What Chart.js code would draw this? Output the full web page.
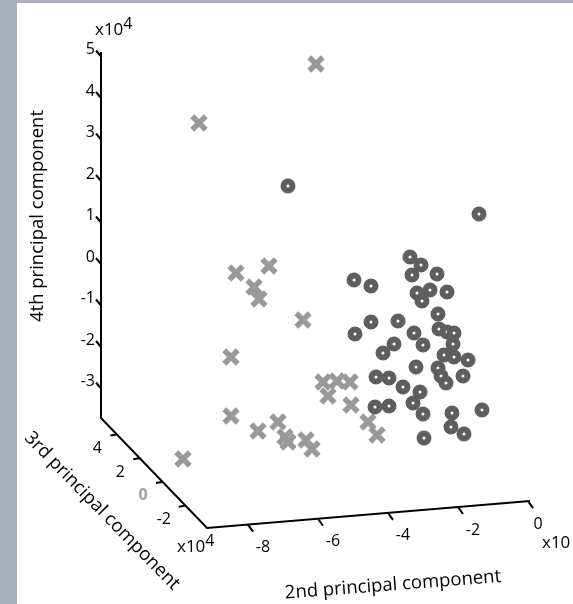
<!DOCTYPE html>
<html>
<head>
<meta charset="utf-8">
<script src="https://cdn.jsdelivr.net/npm/chart.js@4/dist/chart.umd.min.js"></script>
<style>
  html, body { margin: 0; padding: 0; background: #aab0bb; }
  #chart { display: block; }
</style>
</head>
<body>
<canvas id="chart" width="573" height="604"></canvas>
<script>
// tick values of the three principal component axes
const pc4Ticks = [5, 4, 3, 2, 1, 0, -1, -2, -3];
const pc3Ticks = [4, 2, 0, -2];
const pc2Ticks = [-8, -6, -4, -2, 0];

// projected positions (view plane) of the two groups
const crossX = [316, 199, 236, 269, 254, 259, 303, 231, 231, 183, 258, 278, 285, 288,
  306, 312, 323, 337, 350, 328, 351, 368, 377];
const crossY = [64, 123, 273, 266, 287, 299, 320, 357, 416, 459, 431, 422, 437, 442,
  440, 449, 382, 381, 382, 396, 405, 422, 435];

const ringX = [288, 479, 410, 421, 412, 437, 354, 371, 417, 430, 447, 422, 438, 371, 398,
  355, 439, 447, 454, 414, 423, 394, 383, 453, 444, 454, 468, 438, 416, 441, 446, 463,
  376, 389, 403, 420, 413, 375, 389, 423, 452, 482, 451, 464, 424];
const ringY = [186, 214, 257, 265, 275, 274, 280, 286, 293, 290, 292, 301, 314, 322, 321,
  334, 329, 332, 333, 333, 345, 344, 353, 344, 355, 357, 360, 368, 367, 376, 383, 376,
  377, 378, 387, 392, 403, 407, 406, 414, 413, 410, 427, 434, 438];

// where each axis sits in the view plane
function pc4At(v) { return { x: 101, y: 257 - 41.5 * v }; }
function pc3At(v) { return { x: 162 - 11.4 * v, y: 482 - 11.85 * v }; }
function pc2At(v) {
  const x = 528 + 35 * v;
  return { x: x, y: 528 - (27 / 323) * (x - 207) };
}

function toPoints(xs, ys) {
  return xs.map((x, i) => ({ x: x, y: ys[i] }));
}

// axis lines + ticks, segments split with gaps
const GAP = { x: NaN, y: NaN };
function axisSegments() {
  const pts = [];
  pts.push({ x: 101, y: 52 }, { x: 101, y: 418 }, { x: 207, y: 528 }, { x: 530, y: 501 }, GAP);
  pc4Ticks.forEach((v) => {
    const p = pc4At(v);
    pts.push({ x: p.x, y: p.y + 7 }, { x: p.x - 5, y: p.y + 1 }, GAP);
  });
  pc3Ticks.forEach((v) => {
    const p = pc3At(v);
    pts.push({ x: p.x, y: p.y }, { x: p.x - 6, y: p.y + 1 }, GAP);
  });
  pc2Ticks.forEach((v) => {
    const p = pc2At(v);
    pts.push({ x: p.x, y: p.y }, { x: p.x + 5, y: p.y + 7 }, GAP);
  });
  return pts;
}

const FONT = "'Open Sans', 'DejaVu Sans', sans-serif";

const backdrop = {
  id: "backdrop",
  beforeDraw(chart) {
    const ctx = chart.ctx;
    ctx.save();
    ctx.fillStyle = "#aab0bb";
    ctx.fillRect(0, 0, chart.width, chart.height);
    ctx.fillStyle = "#ffffff";
    ctx.fillRect(17, 3, chart.width - 17, chart.height - 3);
    ctx.restore();
  },
};

const axisText = {
  id: "axisText",
  afterDraw(chart) {
    const ctx = chart.ctx;
    const sx = chart.scales.x;
    const sy = chart.scales.y;
    const px = (p) => ({ x: sx.getPixelForValue(p.x), y: sy.getPixelForValue(p.y) });

    ctx.save();
    ctx.fillStyle = "#000";
    ctx.font = "16px " + FONT;
    ctx.textBaseline = "middle";

    // 4th PC tick labels
    ctx.textAlign = "right";
    pc4Ticks.forEach((v) => {
      const p = px(pc4At(v));
      ctx.fillText(String(v), p.x - 6, p.y);
    });

    // 3rd PC tick labels
    ctx.textAlign = "center";
    pc3Ticks.forEach((v) => {
      const p = px(pc3At(v));
      if (v === 0) {
        ctx.save();
        ctx.fillStyle = "#a0a0a0";
        ctx.font = "bold 16px " + FONT;
        ctx.fillText("0", p.x - 19, p.y + 13);
        ctx.restore();
      } else {
        ctx.fillText(String(v), p.x - 19 - (v < 0 ? 2 : 0), p.y + 14);
      }
    });

    // 2nd PC tick labels
    pc2Ticks.forEach((v) => {
      const p = px(pc2At(v));
      ctx.fillText(String(v), p.x + (v === 0 ? 10 : 15), p.y + 23);
    });

    // exponent markers (the right one runs off the edge, as in the original)
    ctx.textAlign = "left";
    ctx.textBaseline = "alphabetic";
    const exps = [[95, 35], [177, 552], [542, 548]];
    exps.forEach(([x, y]) => {
      const a = px({ x: x, y: y });
      ctx.font = "17px " + FONT;
      ctx.fillText("x10", a.x, a.y);
      const w = ctx.measureText("x10").width;
      if (a.x + w + 4 > chart.width) return;
      ctx.font = "16px " + FONT;
      ctx.fillText("4", a.x + w, a.y - 6);
    });

    // axis titles
    ctx.font = "18.5px " + FONT;
    ctx.textAlign = "center";
    ctx.textBaseline = "middle";
    const titles = [
      ["4th principal component", 38, 216, -Math.PI / 2],
      ["3rd principal component", 102, 511, (45.6 * Math.PI) / 180],
      ["2nd principal component", 393, 585, (-4.4 * Math.PI) / 180],
    ];
    titles.forEach(([t, x, y, rot]) => {
      const a = px({ x: x, y: y });
      ctx.save();
      ctx.translate(a.x, a.y);
      ctx.rotate(rot);
      ctx.fillText(t, 0, 0);
      ctx.restore();
    });
    ctx.restore();
  },
};

new Chart(document.getElementById("chart"), {
  type: "scatter",
  data: {
    datasets: [
      {
        label: "group B",
        data: toPoints(ringX, ringY),
        pointStyle: "circle",
        pointRadius: 4.5,
        pointBorderWidth: 6,
        pointBackgroundColor: "#ffffff",
        pointBorderColor: "#5e5e5e",
        order: 0,
      },
      {
        label: "group A",
        data: toPoints(crossX, crossY),
        pointStyle: "crossRot",
        pointRadius: 9.5,
        pointBorderWidth: 5.5,
        pointBorderColor: "#999999",
        order: 1,
      },
      {
        type: "line",
        label: "axes",
        data: axisSegments(),
        borderColor: "#000000",
        borderWidth: 2,
        pointRadius: 0,
        spanGaps: false,
        order: 2,
      },
    ],
  },
  options: {
    responsive: false,
    animation: false,
    devicePixelRatio: 1,
    layout: { padding: 0, autoPadding: false },
    plugins: {
      legend: { display: false },
      tooltip: { enabled: false },
    },
    scales: {
      x: { type: "linear", min: 0, max: 573, display: false },
      y: { type: "linear", min: 0, max: 604, reverse: true, display: false },
    },
  },
  plugins: [backdrop, axisText],
});
</script>
</body>
</html>
